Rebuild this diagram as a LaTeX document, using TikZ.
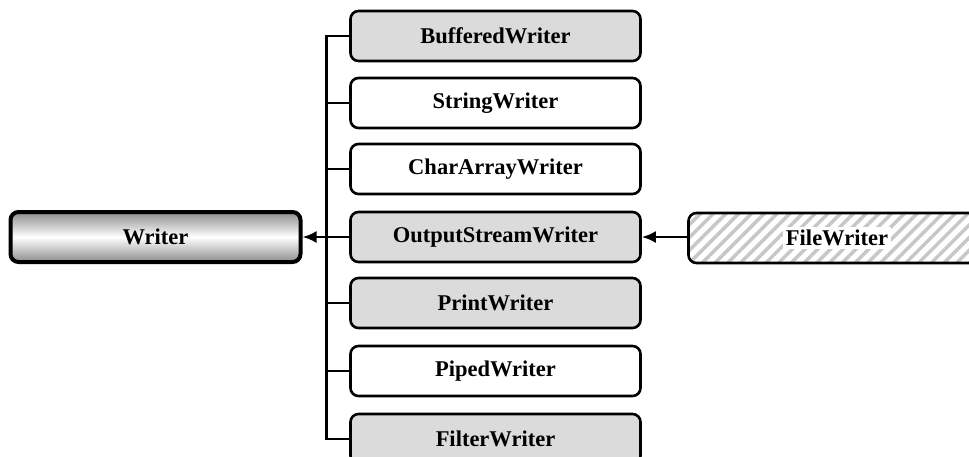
\documentclass[tikz,border=0pt]{standalone}
\usepackage{fontspec}
\setmainfont{Liberation Serif}
\usetikzlibrary{arrows.meta,patterns.meta}
\begin{document}
\begin{tikzpicture}[x=1pt,y=-1pt,
  txt/.style={font=\fontsize{22.5}{25}\selectfont\bfseries},
  base/.style={txt, draw=black, line width=2.6pt, rounded corners=8pt, minimum width=290pt, minimum height=50pt, inner sep=0pt},
  greybox/.style={base, fill=black!14},
  whitebox/.style={base, fill=white},
  rootbox/.style={base, line width=4pt, minimum width=290pt, minimum height=50pt, top color=black!45, bottom color=black!45, middle color=white},
  hatchbox/.style={base, minimum width=297pt, pattern={Lines[angle=45,distance=9pt,line width=3.5pt]}, pattern color=black!22},
  lbl/.style={txt, fill=white, inner sep=3pt},
  conn/.style={line width=2.6pt},
  arr/.style={line width=2.6pt, -{Latex[length=14pt,width=12pt]}}
]
\clip (0,0) rectangle (969,456);
\node[rootbox] (writer) at (155.5,237) {Writer};
\node[greybox] (b1) at (495.5,36) {BufferedWriter};
\node[whitebox] (b2) at (495.5,103) {StringWriter};
\node[whitebox] (b3) at (495.5,169) {CharArrayWriter};
\node[greybox] (b4) at (495.5,237) {OutputStreamWriter};
\node[greybox] (b5) at (495.5,303) {PrintWriter};
\node[whitebox] (b6) at (495.5,371) {PipedWriter};
\node[greybox] (b7) at (495.5,439) {FilterWriter};
\node[hatchbox] (fw) at (837,238) {};
\node[lbl] (fwl) at (fw.center) {FileWriter};
\draw[conn] (b1.west) -- ++(-23,0) coordinate (t1) -- (t1 |- b7.west) -- (b7.west);
\draw[conn] (b2.west) -- (b2.west -| t1);
\draw[conn] (b3.west) -- (b3.west -| t1);
\draw[conn] (b5.west) -- (b5.west -| t1);
\draw[conn] (b6.west) -- (b6.west -| t1);
\draw[arr] (b4.west) -- (b4.west -| writer.east);
\draw[arr] (fw.west |- b4.east) -- (b4.east);
\end{tikzpicture}
\end{document}
